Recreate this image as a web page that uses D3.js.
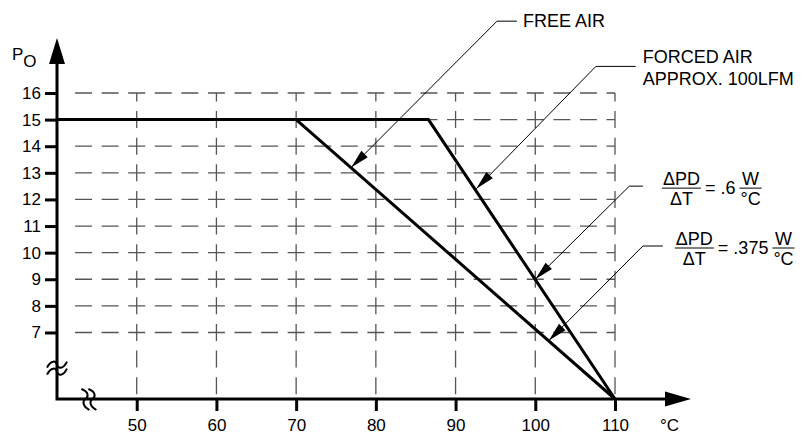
<!DOCTYPE html>
<meta charset="utf-8">
<title>Power derating</title>
<script src="https://d3js.org/d3.v7.min.js"></script>
<style>
  body { margin: 0; background: #fff; }
  text { font-family: "Liberation Sans", Arial, sans-serif; fill: #000; }
</style>
<div id="chart"></div>
<script>
// ticks
var tempTicks = [50, 60, 70, 80, 90, 100, 110];
var powerTicks = [7, 8, 9, 10, 11, 12, 13, 14, 15, 16];

// derating curves (temperature in degC, power in W)
var freeAirTemp = [70, 110];
var freeAirPower = [15, 4.5];
var forcedAirTemp = [40, 86.6, 110];
var forcedAirPower = [15, 15, 4.5];

// callouts: arrow tip, elbow, end of the leader (data units)
var calloutTip = [[76.9, 13.2], [92.6, 12.4], [100, 9], [101.7, 6.7]];
var calloutElbow = [[95.2, 18.7], [107.6, 17.0], [111.8, 12.5], [113.5, 10.25]];
var calloutEnd = [[97.7, 18.7], [112.6, 17.0], [113.5, 12.5], [116.0, 10.25]];
var rates = [".6", ".375"];

var width = 803, height = 434;

var svg = d3.select("#chart")
  .append("svg")
    .attr("width", width)
    .attr("height", height);

var x = d3.scaleLinear().domain([40, 110]).range([57, 615]);
var y = d3.scaleLinear().domain([4.5, 16]).range([399, 93]);

// dashed grid, dashes centred on crossings
var dash = 17;
var py = y(15) - y(16);
var px = (x(60) - x(50)) / 3;

svg.append("g").selectAll("line")
  .data(tempTicks)
  .enter().append("line")
    .attr("x1", function(d) { return x(d); })
    .attr("x2", function(d) { return x(d); })
    .attr("y1", y(16))
    .attr("y2", y(4.5))
    .attr("stroke", "#555")
    .attr("stroke-width", 1.3)
    .attr("stroke-dasharray", dash + "," + (py - dash))
    .attr("stroke-dashoffset", dash / 2);

var hx0 = 70, hL = x(110) - hx0;
var hoff = (((dash / 2 - hL) % px) + px) % px;
svg.append("g").selectAll("line")
  .data(powerTicks)
  .enter().append("line")
    .attr("x1", hx0)
    .attr("x2", x(110))
    .attr("y1", function(d) { return y(d); })
    .attr("y2", function(d) { return y(d); })
    .attr("stroke", "#555")
    .attr("stroke-width", 1.3)
    .attr("stroke-dasharray", dash + "," + (px - dash))
    .attr("stroke-dashoffset", hoff);

// axes
var fontSize = 17;
var yAxis = svg.append("g")
  .attr("transform", "translate(" + x(40) + ",0)")
  .call(d3.axisLeft(y).tickValues(powerTicks).tickSize(12).tickPadding(4));
var xAxis = svg.append("g")
  .attr("transform", "translate(0," + y(4.5) + ")")
  .call(d3.axisBottom(x).tickValues(tempTicks).tickSize(12).tickPadding(8));

[yAxis, xAxis].forEach(function(a) {
  a.select(".domain").remove();
  a.attr("font-family", null).attr("font-size", fontSize);
  a.selectAll(".tick line").attr("stroke", "#000").attr("stroke-width", 3);
  a.selectAll(".tick text").attr("fill", "#000");
});

var ox = x(40), oy = y(4.5);
svg.append("path")
  .attr("d", "M" + ox + "," + (y(16) - 30) + "V" + oy + "H" + (x(110) + 51))
  .attr("fill", "none")
  .attr("stroke", "#000")
  .attr("stroke-width", 3);
// arrow heads
svg.append("path")
  .attr("d", "M" + ox + "," + (y(16) - 55) + "L" + (ox + 8) + "," + (y(16) - 29) + "L" + (ox - 8) + "," + (y(16) - 29) + "Z")
  .attr("fill", "#000");
svg.append("path")
  .attr("d", "M" + (x(110) + 76) + "," + oy + "L" + (x(110) + 50) + "," + (oy - 7.5) + "L" + (x(110) + 50) + "," + (oy + 7.5) + "Z")
  .attr("fill", "#000");

// axis breaks
var yb = y(5.66);
[-3.5, 3.5].forEach(function(o) {
  svg.append("path")
    .attr("d", "M" + (ox - 10) + "," + (yb + o + 3) +
      " C" + (ox - 6) + "," + (yb + o - 5) + " " + (ox - 1) + "," + (yb + o - 4) + " " + ox + "," + (yb + o) +
      " S" + (ox + 6) + "," + (yb + o + 5) + " " + (ox + 10) + "," + (yb + o - 3))
    .attr("fill", "none")
    .attr("stroke", "#000")
    .attr("stroke-width", 2);
});
var xb = x(44);
[-3.5, 3.5].forEach(function(o) {
  svg.append("path")
    .attr("d", "M" + (xb + o - 4) + "," + (oy - 10) +
      " C" + (xb + o + 4) + "," + (oy - 7) + " " + (xb + o + 3) + "," + (oy - 2) + " " + (xb + o) + "," + oy +
      " S" + (xb + o - 3) + "," + (oy + 7) + " " + (xb + o + 4) + "," + (oy + 11))
    .attr("fill", "none")
    .attr("stroke", "#000")
    .attr("stroke-width", 2);
});

// axis titles
var po = svg.append("text")
  .attr("x", 12)
  .attr("y", 60)
  .attr("font-size", 17);
po.append("tspan").text("P");
po.append("tspan").attr("dy", 7).text("O");

svg.append("text")
  .attr("x", x(110) + 45)
  .attr("y", oy + 32)
  .attr("font-size", fontSize)
  .text("°C");

// curves
var line = d3.line()
  .x(function(d) { return x(d[0]); })
  .y(function(d) { return y(d[1]); });

svg.append("path")
  .datum(d3.zip(forcedAirTemp, forcedAirPower))
  .attr("d", line)
  .attr("fill", "none")
  .attr("stroke", "#000")
  .attr("stroke-width", 3)
  .attr("stroke-linejoin", "miter");
svg.append("path")
  .datum(d3.zip(freeAirTemp, freeAirPower))
  .attr("d", line)
  .attr("fill", "none")
  .attr("stroke", "#000")
  .attr("stroke-width", 3);

// callout leaders with arrows
calloutTip.forEach(function(t, i) {
  var e = calloutElbow[i], n = calloutEnd[i];
  var tx = x(t[0]), ty = y(t[1]), ex = x(e[0]), ey = y(e[1]);
  svg.append("path")
    .attr("d", "M" + tx + "," + ty + "L" + ex + "," + ey + "L" + x(n[0]) + "," + y(n[1]))
    .attr("fill", "none")
    .attr("stroke", "#000")
    .attr("stroke-width", 1);
  var ang = Math.atan2(ey - ty, ex - tx);
  var len = 19, hw = 4.5;
  var bx = tx + len * Math.cos(ang), by = ty + len * Math.sin(ang);
  svg.append("path")
    .attr("d", "M" + tx + "," + ty +
      "L" + (bx - hw * Math.sin(ang)) + "," + (by + hw * Math.cos(ang)) +
      "L" + (bx + hw * Math.sin(ang)) + "," + (by - hw * Math.cos(ang)) + "Z")
    .attr("fill", "#000");
});

// callout labels
var lf = 18;
function endPx(i) { return [x(calloutEnd[i][0]), y(calloutEnd[i][1])]; }

var p0 = endPx(0);
svg.append("text").attr("x", p0[0] + 6).attr("y", p0[1] + 6).attr("font-size", lf).text("FREE AIR");

var p1 = endPx(1);
svg.append("text").attr("x", p1[0] + 7).attr("y", p1[1] - 3).attr("font-size", lf).text("FORCED AIR");
svg.append("text").attr("x", p1[0] + 7).attr("y", p1[1] + 19).attr("font-size", lf).text("APPROX. 100LFM");

// stacked fraction, left edge at lx, bar at by
function fraction(lx, by, num, den, size) {
  var g = svg.append("g");
  var a = g.append("text").attr("y", -3).attr("font-size", size)
    .attr("text-anchor", "middle").text(num);
  var b = g.append("text").attr("y", 17).attr("font-size", size)
    .attr("text-anchor", "middle").text(den);
  var w = Math.max(a.node().getComputedTextLength(), b.node().getComputedTextLength());
  g.append("line").attr("x1", -w / 2 - 1).attr("x2", w / 2 + 1)
    .attr("y1", 0.5).attr("y2", 0.5).attr("stroke", "#000").attr("stroke-width", 1);
  g.attr("transform", "translate(" + (lx + w / 2 + 1) + "," + by + ")");
  return w + 2;
}

var fracGap = [19, 12];
[2, 3].forEach(function(k, j) {
  var p = endPx(k);
  var left = p[0] + fracGap[j];
  var w = fraction(left, p[1] + 1.5, "ΔPD", "ΔT", lf);
  var eq = svg.append("text").attr("x", left + w + 4).attr("y", p[1] + 8).attr("font-size", lf)
    .text("= " + rates[j]);
  var eqEnd = left + w + 4 + eq.node().getComputedTextLength();
  fraction(eqEnd + 4, p[1] + 1.5, "W", "°C", lf);
});
</script>
